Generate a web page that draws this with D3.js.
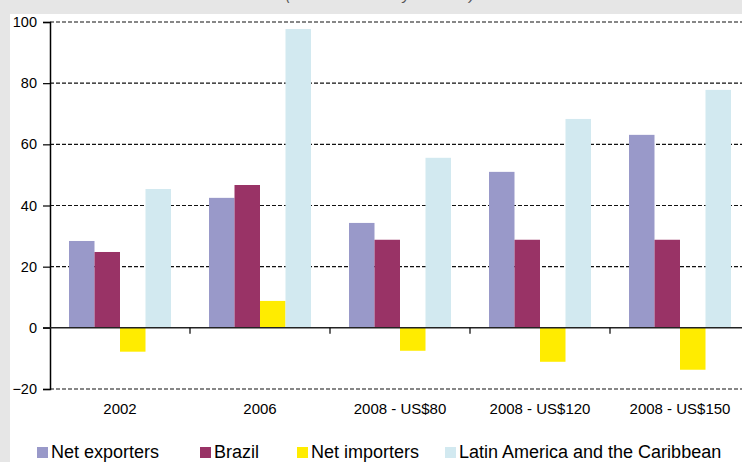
<!DOCTYPE html>
<html>
<head>
<meta charset="utf-8">
<script src="https://cdn.jsdelivr.net/npm/d3@7"></script>
<style>
  body { margin: 0; background: #e6e6e6; }
  svg { display: block; font-family: "Liberation Sans", Arial, sans-serif; }
</style>
</head>
<body>
<svg id="chart" width="742" height="462"></svg>
<script>
var categories = ['2002', '2006', '2008 - US$80', '2008 - US$120', '2008 - US$150'];
var seriesNames = ['Net exporters', 'Brazil', 'Net importers', 'Latin America and the Caribbean'];
var netExporters = [28.4, 42.5, 34.3, 51.0, 63.1];
var brazil = [24.8, 46.7, 28.8, 28.8, 28.8];
var netImporters = [-7.8, 8.8, -7.5, -11.1, -13.7];
var latinAmerica = [45.4, 97.7, 55.6, 68.3, 77.8];
var yTicks = [-20, 0, 20, 40, 60, 80, 100];
var colors = ['#9999c9', '#993366', '#ffec00', '#d2e9f0'];

var series = [netExporters, brazil, netImporters, latinAmerica];

var svg = d3.select('#chart');

// white panel on grey frame
svg.append('rect')
  .attr('x', 10).attr('y', 14)
  .attr('width', 742).attr('height', 462)
  .attr('fill', '#fff');

// subtitle, cut off by the top edge as in the source
svg.append('text')
  .attr('x', 380).attr('y', 0)
  .attr('text-anchor', 'middle')
  .attr('font-style', 'italic')
  .attr('font-size', 15)
  .attr('fill', '#555')
  .text('(Relative to base year 2000)');

var x = d3.scaleBand()
  .domain(categories)
  .range([50, 750]);
var inner = d3.scaleBand()
  .domain(d3.range(4))
  .range([0, 102]);
var y = d3.scaleLinear()
  .domain([-20, 100])
  .range([389, 22]);

// dashed gridlines
svg.append('g')
  .selectAll('line')
  .data(yTicks.filter(function(d) { return d != 0; }))
  .enter()
  .append('line')
  .attr('x1', 50).attr('x2', 742)
  .attr('y1', function(d) { return y(d); })
  .attr('y2', function(d) { return y(d); })
  .attr('stroke', '#111')
  .attr('stroke-width', 1.2)
  .attr('stroke-dasharray', '4,2');

// bars
var groups = svg.append('g')
  .selectAll('g')
  .data(series)
  .enter()
  .append('g')
  .attr('fill', function(d, i) { return colors[i]; });

groups.each(function(vals, si) {
  d3.select(this).selectAll('rect')
    .data(vals)
    .enter()
    .append('rect')
    .attr('x', function(d, i) { return x(categories[i]) + 19 + inner(si); })
    .attr('width', inner.bandwidth())
    .attr('y', function(d) { return y(Math.max(0, d)); })
    .attr('height', function(d) { return Math.abs(y(d) - y(0)); });
});

// y axis
var yAxis = svg.append('g')
  .attr('transform', 'translate(50,0)')
  .call(d3.axisLeft(y).tickValues(yTicks).tickSize(7).tickFormat(d3.format('d')));
yAxis.select('.domain').attr('stroke', '#000').attr('stroke-width', 1.5);
yAxis.selectAll('.tick line').attr('stroke', '#000').attr('stroke-width', 1.2);
yAxis.selectAll('.tick text')
  .attr('font-size', 14.5)
  .attr('font-family', '"Liberation Sans", Arial, sans-serif')
  .attr('fill', '#000')
  .attr('x', -13);

// zero line with category ticks
svg.append('line')
  .attr('x1', 43).attr('x2', 742)
  .attr('y1', y(0)).attr('y2', y(0))
  .attr('stroke', '#222')
  .attr('stroke-width', 1.5);

svg.append('g')
  .selectAll('line')
  .data(categories.slice(1))
  .enter()
  .append('line')
  .attr('x1', function(d) { return x(d); })
  .attr('x2', function(d) { return x(d); })
  .attr('y1', y(0)).attr('y2', y(0) + 6)
  .attr('stroke', '#000')
  .attr('stroke-width', 1.2);

// category labels
svg.append('g')
  .selectAll('text')
  .data(categories)
  .enter()
  .append('text')
  .attr('x', function(d) { return x(d) + x.bandwidth() / 2; })
  .attr('y', 414)
  .attr('text-anchor', 'middle')
  .attr('font-size', 15)
  .attr('fill', '#000')
  .text(function(d) { return d; });

// legend
var legendX = [37, 200, 297, 445];
var legend = svg.append('g')
  .selectAll('g')
  .data(seriesNames)
  .enter()
  .append('g')
  .attr('transform', function(d, i) { return 'translate(' + legendX[i] + ',0)'; });

legend.append('rect')
  .attr('x', 0).attr('y', 447)
  .attr('width', 11).attr('height', 11)
  .attr('fill', function(d, i) { return colors[i]; });

legend.append('text')
  .attr('x', 14).attr('y', 457.5)
  .attr('font-size', 18)
  .attr('fill', '#000')
  .text(function(d) { return d; });
</script>
</body>
</html>
